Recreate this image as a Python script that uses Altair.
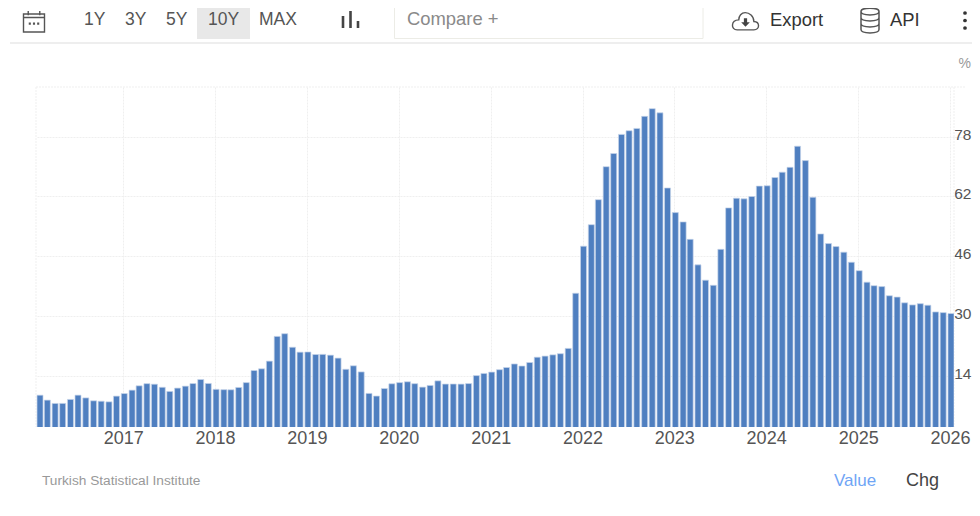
import altair as alt
import pandas as pd

VALUES = [
    8.78, 7.46, 6.57, 6.58, 7.64, 8.79, 8.05, 7.28, 7.16, 7.00, 8.53,
    9.22, 10.13, 11.29, 11.87, 11.72, 10.90, 9.79, 10.68, 11.20, 11.90, 12.98, 11.92,
    10.35, 10.26, 10.23, 10.85, 12.15, 15.39, 15.85, 17.90, 24.52, 25.24, 21.62, 20.30,
    20.35, 19.67, 19.71, 19.50, 18.71, 15.72, 16.65, 15.01, 9.26, 8.55, 10.56, 11.84,
    12.15, 12.37, 11.86, 10.94, 11.39, 12.62, 11.76, 11.77, 11.75, 11.89, 14.03, 14.60,
    14.97, 15.61, 16.19, 17.14, 16.59, 17.53, 18.95, 19.25, 19.58, 19.89, 21.31, 36.08,
    48.69, 54.44, 61.14, 69.97, 73.50, 78.62, 79.60, 80.21, 83.45, 85.51, 84.39, 64.27,
    57.68, 55.18, 50.51, 43.68, 39.59, 38.21, 47.83, 58.94, 61.53, 61.36, 61.98, 64.77,
    64.86, 67.07, 68.50, 69.80, 75.45, 71.60, 61.78, 51.97, 49.38, 48.58, 47.09, 44.38,
    42.12, 39.05, 38.10, 37.86, 35.41, 35.05, 33.52, 32.95, 33.29, 32.87, 31.07, 30.89,
    30.65,
]
Y_TICKS = [14, 30, 46, 62, 78]
X_TICKS = [f"{y}-01-01T00:00:00" for y in range(2017, 2027)]
RANGE_BUTTONS = ["1Y", "3Y", "5Y", "10Y", "MAX"]

OX, OY = 36, 87      # page position of the plot area
PW, PH = 918, 340
PAGE_W, PAGE_H = 964, 500

dates = pd.date_range("2016-02-05", periods=len(VALUES), freq=pd.DateOffset(months=1))
df = pd.DataFrame({"date": dates, "v": VALUES})
one = pd.DataFrame({"a": [0]})

GRID = "#efefef"


def text(s, x, y, size=16, color="#555555", align="left", weight="normal"):
    return alt.Chart(pd.DataFrame({"t": [s]})).mark_text(
        font="Liberation Sans", fontSize=size, color=color, align=align,
        baseline="middle", fontWeight=weight,
    ).encode(x=alt.value(x - OX), y=alt.value(y - OY), text="t:N")


def rect(x0, x1, y0, y1, fill=None, stroke=None, sw=1):
    kw = {}
    if fill:
        kw["fill"] = fill
    else:
        kw["fillOpacity"] = 0
    if stroke:
        kw["stroke"] = stroke
        kw["strokeWidth"] = sw
    return alt.Chart(one).mark_rect(**kw).encode(
        x=alt.value(x0 - OX), x2=alt.value(x1 - OX),
        y=alt.value(y0 - OY), y2=alt.value(y1 - OY),
    )


def rule(x0, x1, y0, y1, color=GRID, sw=1, dash=None):
    kw = {"color": color, "strokeWidth": sw}
    if dash:
        kw["strokeDash"] = dash
    return alt.Chart(one).mark_rule(**kw).encode(
        x=alt.value(x0 - OX), x2=alt.value(x1 - OX),
        y=alt.value(y0 - OY), y2=alt.value(y1 - OY),
    )


def icon(path, cx, cy, scale, color="#555555", sw=1.4, filled=False):
    kw = {"shape": path, "size": (2 * scale) ** 2, "opacity": 1}
    if filled:
        kw.update(filled=True, fill=color, strokeWidth=0)
    else:
        kw.update(filled=False, stroke=color, strokeWidth=sw)
    return alt.Chart(one).mark_point(**kw).encode(
        x=alt.value(cx - OX), y=alt.value(cy - OY)
    )


x_scale = alt.Scale(domain=["2016-01-20T00:00:00", "2026-01-17T00:00:00"], nice=False, padding=0)
y_scale = alt.Scale(domain=[0.26, 91.31], nice=False, zero=False)

bars = alt.Chart(df).mark_bar(
    width=6, fill="#4f7fc0", stroke="#c5d4ea", strokeWidth=0.7, clip=True
).encode(
    x=alt.X(
        "date:T", scale=x_scale, title=None,
        axis=alt.Axis(
            format="%Y", values=X_TICKS, grid=True, gridColor=GRID,
            gridDash=[2, 1], domain=False, ticks=False, labelFont="Liberation Sans",
            labelFontSize=18, labelColor="#555555", labelPadding=2, labelFlush=False,
            labelOverlap=False,
        ),
    ),
    y=alt.Y(
        "v:Q", scale=y_scale, title=None,
        axis=alt.Axis(
            orient="right", values=Y_TICKS, grid=True, gridColor=GRID, gridDash=[2, 1],
            domain=False, ticks=True, tickSize=10, tickColor=GRID, labelPadding=7,
            labelAlign="right", labelOffset=-2.5,
            labelFont="Liberation Sans", labelFontSize=15.5, labelColor="#555555",
        ),
    ),
)

layers = [
    # plot frame
    rule(36, 965, 87, 87, dash=[2, 1]),
    rule(36, 36, 87, 427, dash=[2, 1]),
    rule(954, 954, 87, 427, dash=[2, 1]),
    bars,
    # toolbar
    rule(10, 972, 43, 43, color="#eeeeee", sw=2),
    rect(197, 250, 1, 39, fill="#e8e8e8"),
    rect(394.5, 703, 0.5, 38.5, fill="#ffffff", stroke="#ecece6"),
]
for label, x in zip(RANGE_BUTTONS, [84, 125, 166, 208, 259]):
    layers.append(text(label, x, 20, size=17.5))
layers += [
    text("Compare +", 407, 19, size=18.4, color="#8a8a8a"),
    text("Export", 770, 20, size=18.4, color="#333333"),
    text("API", 890, 20, size=18.4, color="#333333"),
    text("%", 971, 64, size=14, color="#999999", align="right"),
    text("Turkish Statistical Institute", 42, 481, size=13.7, color="#999999"),
    text("Value", 834, 481, size=17, color="#6fa5f5"),
    text("Chg", 906, 481, size=18, color="#444444"),
    # calendar icon
    icon("M-1,-0.72 H1 V1 H-1 Z M-1,-0.38 H1 M-0.55,-1 V-0.6 M0.55,-1 V-0.6", 34, 21.5, 10.5),
    icon("M-0.5,0.1 h0.2 v0.2 h-0.2 Z M-0.1,0.1 h0.2 v0.2 h-0.2 Z M0.3,0.1 h0.2 v0.2 h-0.2 Z",
         34, 21.5, 10.5, filled=True),
    # chart type icon
    rule(343, 343, 16, 28, color="#444444", sw=2.6),
    rule(350.5, 350.5, 11, 28, color="#444444", sw=2.6),
    rule(358, 358, 21, 28, color="#444444", sw=2.6),
    # cloud icon
    icon("M-0.62,0.62 H0.62 C1.08,0.62 1.08,0.02 0.62,0.0 C0.62,-0.42 0.28,-0.66 -0.02,-0.66 "
         "C-0.3,-0.66 -0.5,-0.42 -0.5,-0.12 C-1.1,-0.1 -1.1,0.62 -0.62,0.62 Z",
         745.5, 21.5, 13.5, sw=1.4),
    icon("M-0.12,-0.25 H0.12 V0.05 H0.32 L0,0.38 L-0.32,0.05 H-0.12 Z", 745.5, 21.5, 13.5,
         color="#444444", filled=True),
    # database icon
    icon("M-0.72,-0.72 C-0.72,-1.08 0.72,-1.08 0.72,-0.72 C0.72,-0.36 -0.72,-0.36 -0.72,-0.72 Z "
         "M-0.72,-0.72 V0.72 C-0.72,1.08 0.72,1.08 0.72,0.72 V-0.72 "
         "M-0.72,-0.24 C-0.72,0.12 0.72,0.12 0.72,-0.24 "
         "M-0.72,0.24 C-0.72,0.6 0.72,0.6 0.72,0.24",
         870, 20.5, 12.5, sw=1.5),
]
for y in (13, 20.5, 28):
    layers.append(
        alt.Chart(one).mark_circle(size=14, color="#333333", opacity=1).encode(
            x=alt.value(965 - OX), y=alt.value(y - OY)
        )
    )

chart = alt.layer(*layers).resolve_scale(x="shared", y="shared").properties(
    width=PW,
    height=PH,
    autosize=alt.AutoSizeParams(type="none"),
    padding={"left": OX - 8, "top": OY - 8, "right": PAGE_W - (OX - 8) - PW,
             "bottom": PAGE_H - (OY - 8) - PH},
    background="#ffffff",
).configure_view(stroke=None)

chart.save("out.html", embed_options={"renderer": "svg", "actions": False})
